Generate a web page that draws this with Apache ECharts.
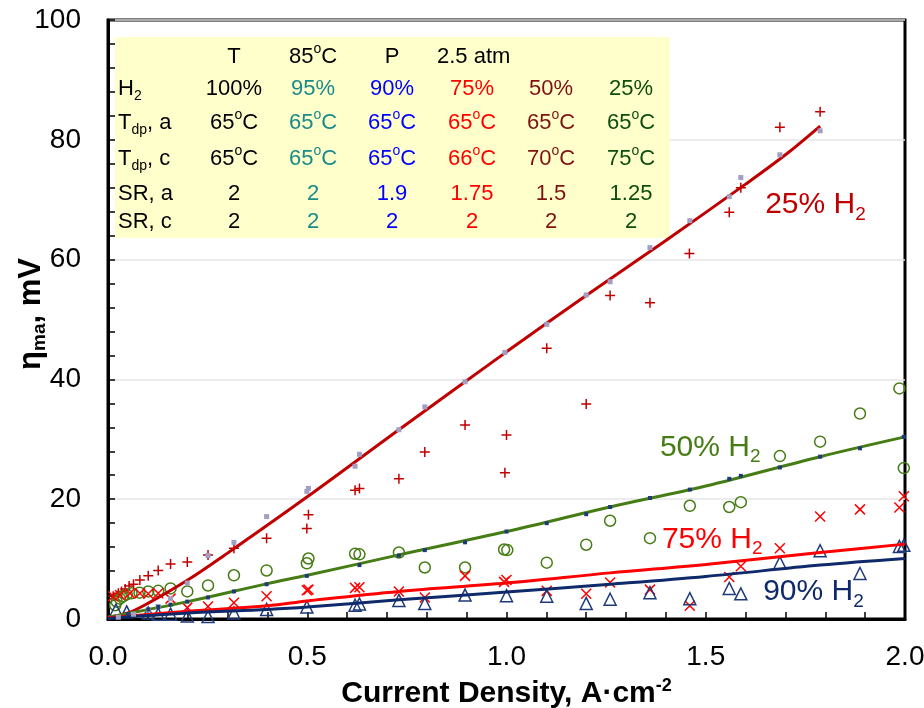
<!DOCTYPE html>
<html>
<head>
<meta charset="utf-8">
<script src="https://cdn.jsdelivr.net/npm/echarts/dist/echarts.min.js"></script>
<style>html,body{margin:0;padding:0;background:#fff}#c{width:924px;height:708px}</style>
</head>
<body>
<div id="c"></div>
<script>
// ---------------- DATA ----------------
// 25% H2 : measured (+), model (squares), fit line
const h25MeasX = [0.013,0.026,0.034,0.043,0.053,0.064,0.080,0.101,0.126,0.157,0.199,0.251,0.316,0.398,0.499,0.503,0.620,0.631,0.730,0.795,0.896,0.996,1.000,1.101,1.200,1.260,1.360,1.459,1.559,1.588,1.686,1.787];
const h25MeasY = [3.8,4.3,4.6,5.0,5.5,5.8,6.5,7.2,8.1,9.2,9.5,10.7,11.8,13.5,15.1,17.4,21.5,21.8,23.4,27.9,32.4,24.4,30.7,45.2,35.9,54.0,52.8,61.0,67.9,72.0,82.1,84.7];
const h25ModelX = [0.026,0.064,0.101,0.126,0.157,0.199,0.251,0.316,0.398,0.499,0.503,0.620,0.631,0.730,0.795,0.896,0.996,1.101,1.200,1.260,1.360,1.460,1.559,1.588,1.686,1.787];
const h25ModelY = [0.3,0.8,1.5,2.1,3.4,6.0,10.6,12.8,17.1,21.3,21.8,25.5,27.5,31.6,35.4,39.6,44.5,49.2,54.1,56.3,62.0,66.5,70.5,73.7,77.5,81.5];
const h25FitX = [0,0.05,0.1,0.2,0.3,0.5,0.73,1.0,1.2,1.4,1.6,1.7,1.787];
const h25FitY = [0.3,1.0,2.6,6.5,11.0,20.4,31.6,44.6,54.0,63.2,72.6,77.5,82.3];

// 50% H2 : measured (circles), model (small squares), fit line
const h50MeasX = [0.018,0.022,0.030,0.038,0.047,0.059,0.079,0.101,0.126,0.157,0.199,0.251,0.316,0.398,0.499,0.503,0.620,0.631,0.730,0.795,0.896,0.994,1.002,1.101,1.200,1.260,1.360,1.460,1.559,1.588,1.686,1.787,1.887,1.986,1.997];
const h50MeasY = [2.3,2.9,3.4,3.8,4.1,4.3,4.4,4.6,4.7,5.1,4.6,5.6,7.3,8.1,9.3,10.1,10.9,10.8,11.1,8.6,8.6,11.6,11.5,9.4,12.4,16.4,13.5,18.9,18.7,19.5,27.2,29.6,34.3,38.5,25.2];
const h50ModelX = [0.05,0.101,0.126,0.157,0.199,0.251,0.316,0.398,0.499,0.631,0.730,0.795,0.896,1.000,1.101,1.200,1.260,1.360,1.460,1.559,1.588,1.686,1.787,1.887,1.997];
const h50ModelY = [0.8,1.6,2.0,2.4,2.9,3.6,4.6,5.8,7.2,9.0,10.6,11.5,12.8,14.6,16.0,17.5,18.7,20.2,21.6,23.4,23.9,25.3,27.1,28.5,30.4];
const h50FitX = [0,0.2,0.4,0.5,0.73,1.0,1.26,1.5,1.787,2.0];
const h50FitY = [0.3,2.9,5.9,7.3,10.7,14.6,18.7,22.2,27.1,30.4];

// 75% H2 : measured (x), fit line
const h75MeasX = [0.013,0.030,0.055,0.080,0.101,0.126,0.157,0.199,0.251,0.316,0.398,0.499,0.503,0.620,0.631,0.730,0.795,0.896,0.994,1.000,1.101,1.200,1.260,1.360,1.460,1.559,1.588,1.686,1.787,1.887,1.986,1.997];
const h75MeasY = [3.8,4.0,4.3,4.3,4.2,4.3,3.4,1.9,2.1,2.7,3.8,4.8,4.9,5.2,5.3,4.6,3.6,7.2,6.2,6.5,4.7,4.2,6.1,4.9,2.2,7.0,8.8,11.8,17.1,18.3,18.6,20.5];
const h75FitX = [0,0.2,0.4,0.5,0.73,1.0,1.26,1.5,1.787,2.0];
const h75FitY = [0.2,1.3,2.2,3.0,4.6,6.0,7.7,9.1,11.1,12.5];

// 90% H2 : measured (triangles), fit line
const h90MeasX = [0.020,0.047,0.101,0.126,0.157,0.199,0.251,0.316,0.398,0.499,0.620,0.631,0.730,0.795,0.896,1.000,1.101,1.200,1.260,1.360,1.460,1.559,1.588,1.686,1.787,1.887,1.986,1.997];
const h90MeasY = [1.5,1.2,1.0,0.8,0.8,0.5,0.4,1.0,1.6,2.0,2.3,2.5,3.1,2.6,4.0,3.9,3.8,2.6,3.3,4.4,3.4,5.1,4.2,9.4,11.4,7.6,12.1,12.3];
const h90FitX = [0,0.2,0.4,0.5,0.73,1.0,1.26,1.5,1.787,2.0];
const h90FitY = [0.1,1.0,1.6,2.0,3.2,4.5,5.8,7.1,9.0,10.1];

// axis ticks and titles
const xTickLabels = ['0.0','0.5','1.0','1.5','2.0'];
const yTickLabels = ['0','20','40','60','80','100'];
const xTitle = '{b|Current Density, A·cm}{sup|-2}';
const yTitle = '{b|η}{sub|ma}{b|, mV}';

// conditions table
const tableHeader = ['T', '85', 'P', '2.5 atm'];
const h2Pct = ['100%','95%','90%','75%','50%','25%'];
const tdpA = ['65','65','65','65','65','65'];
const tdpC = ['65','65','65','66','70','75'];
const srA = ['2','2','1.9','1.75','1.5','1.25'];
const srC = ['2','2','2','2','2','2'];
const rowLabels = ['{n|H}{sub|2}', '{n|T}{sub|dp}{n|, a}', '{n|T}{sub|dp}{n|, c}', '{n|SR, a}', '{n|SR, c}'];

// series labels
const seriesNames = ['25% H', '50% H', '75% H', '90% H'];
const seriesLabelPos = [[1.649, 69.1], [1.385, 28.6], [1.39, 13.3], [1.644, 4.5]];

// ---------------- STYLE ----------------
const FONT = "'Liberation Sans', Arial, Helvetica, sans-serif";
const C25 = '#c00000', C25M = '#a39fc4';
const C50 = '#467c14', C50M = '#1f3a78';
const C75 = '#ff0000';
const C90 = '#0f2a6a', C90M = '#1f3a7a';
const colColors = ['#000000','#1a8a8a','#0000ff','#ff0000','#7f1111','#0d4d0d'];

const pair = (xs, ys) => xs.map((x, i) => [x, ys[i]]);
const PLUS = 'path://M5,0L5,10M0,5L10,5';
const CROSS = 'path://M0,0L10,10M10,0L0,10';

const chart = echarts.init(document.getElementById('c'), null, {renderer: 'canvas'});

const scatter = (name, data, symbol, size, color, filled, bw, z) => ({
  name, type: 'scatter', data, symbol, symbolSize: size, z: z || 2,
  itemStyle: filled ? {color: color, opacity: 1}
                    : {color: 'rgba(0,0,0,0)', borderColor: color, borderWidth: bw || 1.5, opacity: 1},
  emphasis: {disabled: true}, silent: true
});
const line = (name, data, color, width) => ({
  name, type: 'line', data, smooth: 0.35, showSymbol: false, symbol: 'none', z: 3,
  lineStyle: {color: color, width: width}, emphasis: {disabled: true}, silent: true
});

chart.setOption({
  animation: false,
  backgroundColor: '#ffffff',
  grid: {left: 108, right: 19, top: 20, bottom: 89, containLabel: false, outerBoundsMode: 'none',
    show: true, borderColor: '#000', borderWidth: 3, backgroundColor: 'transparent'},
  xAxis: {
    type: 'value', min: 0, max: 2, interval: 0.5,
    axisLine: {show: true, onZero: false, lineStyle: {color: '#000', width: 3}},
    axisTick: {show: true, inside: true, length: 7, lineStyle: {color: '#000', width: 1.5}},
    minorTick: {show: true, splitNumber: 5, length: 7, lineStyle: {color: '#000', width: 1.5}},
    splitLine: {show: false},
    axisLabel: {fontFamily: FONT, fontSize: 28, color: '#000', margin: 24, hideOverlap: false,
      formatter: (v) => xTickLabels[Math.round(v / 0.5)]},
    name: xTitle,
    nameLocation: 'middle', nameGap: 58,
    nameTextStyle: {rich: {
      b: {fontFamily: FONT, fontSize: 30, fontWeight: 'bold', color: '#000', lineHeight: 34},
      sup: {fontFamily: FONT, fontSize: 18, fontWeight: 'bold', color: '#000', lineHeight: 18, verticalAlign: 'top'}
    }}
  },
  yAxis: {
    type: 'value', min: 0, max: 100, interval: 20,
    axisLine: {show: true, onZero: false, lineStyle: {color: '#000', width: 3}},
    axisTick: {show: true, inside: true, length: 7, lineStyle: {color: '#000', width: 1.5}},
    minorTick: {show: true, splitNumber: 5, length: 7, lineStyle: {color: '#000', width: 1.5}},
    splitLine: {show: true, lineStyle: {color: '#e6e6e6', width: 1.5}},
    axisLabel: {fontFamily: FONT, fontSize: 28, color: '#000', margin: 27, hideOverlap: false,
      formatter: (v) => yTickLabels[Math.round(v / 20)]}
  },
  series: [
    scatter('25% meas', pair(h25MeasX, h25MeasY), PLUS, 10, C25, false, 1.5),
    scatter('50% meas', pair(h50MeasX, h50MeasY), 'circle', 11, C50, false, 1.5),
    scatter('75% meas', pair(h75MeasX, h75MeasY), CROSS, 10, C75, false, 1.5),
    scatter('90% meas', pair(h90MeasX, h90MeasY), 'triangle', 12, C90M, false, 1.5),
    line('25% fit', pair(h25FitX, h25FitY), C25, 3),
    line('50% fit', pair(h50FitX, h50FitY), C50, 3),
    line('75% fit', pair(h75FitX, h75FitY), C75, 3),
    line('90% fit', pair(h90FitX, h90FitY), C90, 3),
    scatter('25% model', pair(h25ModelX, h25ModelY), 'rect', 5, C25M, true, 0, 4),
    scatter('50% model', pair(h50ModelX, h50ModelY), 'rect', 4, C50M, true, 0, 4)
  ]
});

// ---------------- ANNOTATIONS ----------------
const TFS = 22;
const tRich = (color) => ({
  n: {fontFamily: FONT, fontSize: TFS, fill: color, lineHeight: 29},
  sup: {fontFamily: FONT, fontSize: 14, fill: color, lineHeight: 14, verticalAlign: 'top'},
  sub: {fontFamily: FONT, fontSize: 14, fill: color, lineHeight: 14, verticalAlign: 'bottom'}
});
const deg = (v) => '{n|' + v + '}{sup|o}{n|C}';
const txt = (t) => '{n|' + t + '}';

const colX = [234, 313, 392, 472, 551, 631];
const rowY = [57, 89, 123, 159, 194, 222];
const labelX = 118;

const gfx = [];
gfx.push({type: 'rect', shape: {x: 115, y: 37, width: 555, height: 201}, style: {fill: '#ffffcc'}, z: 1, silent: true});
const addT = (text, x, y, color, align) => gfx.push({
  type: 'text', x: x, y: y, z: 10, silent: true,
  style: {text: text, rich: tRich(color), align: align || 'center', verticalAlign: 'middle', fill: color}
});
// header row
addT(txt(tableHeader[0]), colX[0], rowY[0], '#000');
addT(deg(tableHeader[1]), colX[1], rowY[0], '#000');
addT(txt(tableHeader[2]), colX[2], rowY[0], '#000');
addT(txt(tableHeader[3]), 437, rowY[0], '#000', 'left');
// row labels
rowLabels.forEach((l, i) => addT(l, labelX, rowY[i + 1], '#000', 'left'));
// value rows
for (let c = 0; c < 6; c++) {
  addT(txt(h2Pct[c]), colX[c], rowY[1], colColors[c]);
  addT(deg(tdpA[c]), colX[c], rowY[2], colColors[c]);
  addT(deg(tdpC[c]), colX[c], rowY[3], colColors[c]);
  addT(txt(srA[c]), colX[c], rowY[4], colColors[c]);
  addT(txt(srC[c]), colX[c], rowY[5], colColors[c]);
}
// y-axis title (rotated)
gfx.push({
  type: 'text', x: 31, y: 314, rotation: Math.PI / 2, z: 10, silent: true,
  style: {
    text: yTitle, align: 'center', verticalAlign: 'middle',
    rich: {
      b: {fontFamily: FONT, fontSize: 31, fontWeight: 'bold', fill: '#000', lineHeight: 36},
      sub: {fontFamily: FONT, fontSize: 19, fontWeight: 'bold', fill: '#000', lineHeight: 19, verticalAlign: 'bottom'}
    }
  }
});
// series labels
const labelColors = [C25, C50, C75, C90];
seriesNames.forEach((n, i) => {
  const p = chart.convertToPixel({gridIndex: 0}, seriesLabelPos[i]);
  gfx.push({
    type: 'text', x: p[0], y: p[1], z: 10, silent: true,
    style: {
      text: '{n|' + n + '}{sub|2}', align: 'left', verticalAlign: 'middle',
      rich: {
        n: {fontFamily: FONT, fontSize: 30, fill: labelColors[i], lineHeight: 38},
        sub: {fontFamily: FONT, fontSize: 19, fill: labelColors[i], lineHeight: 19, verticalAlign: 'bottom'}
      }
    }
  });
});
chart.setOption({graphic: {elements: gfx}});
</script>
</body>
</html>
